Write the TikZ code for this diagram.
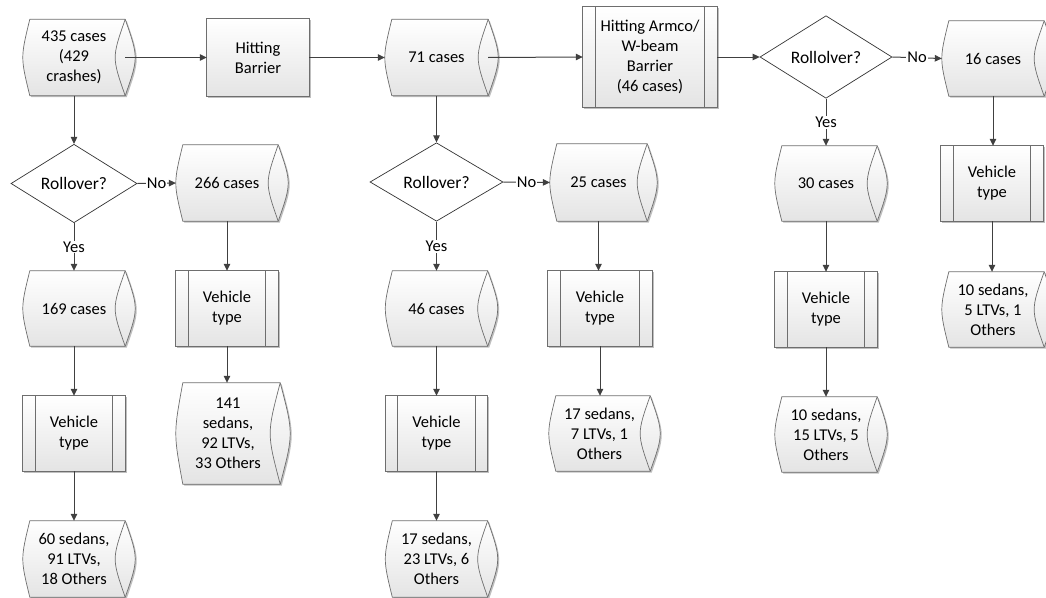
\documentclass[tikz,border=0pt]{standalone}
\usepackage{fontspec}
\setmainfont{Carlito}
\usetikzlibrary{arrows.meta,shapes.geometric,shadows,backgrounds}
\definecolor{lnc}{HTML}{404040}
\definecolor{brd}{HTML}{6E6E6E}
\definecolor{shd}{HTML}{E4E4E4}
\newcommand\storpath[1]{([xshift=7pt]#1.north west) .. controls ([xshift=-2.33pt]#1.west) .. ([xshift=7pt]#1.south west) -- (#1.south east) .. controls ([xshift=13.33pt]#1.east) .. (#1.north east) -- cycle}
\newcommand\drawstor[1]{%
  \path[shapefill] \storpath{#1};
  \draw[brd, line width=0.7pt] (#1.north east) .. controls ([xshift=-13.33pt]#1.east) .. (#1.south east);}
\newcommand\drawpred[1]{%
  \path[shapefill] (#1.north west) rectangle (#1.south east);
  \draw[brd, line width=0.7pt] ([xshift=12.5pt]#1.north west) -- ([xshift=12.5pt]#1.south west)
    ([xshift=-12.5pt]#1.north east) -- ([xshift=-12.5pt]#1.south east);}
\begin{document}
\begin{tikzpicture}[x=1pt,y=-1pt,
  every node/.style={font=\fontsize{16.5}{20}\selectfont, text=black},
  stor/.style={rectangle, inner sep=0pt, minimum width=102pt, minimum height=76pt, align=center},
  pred/.style={rectangle, inner sep=0pt, minimum width=102pt, minimum height=75pt, align=center},
  dec/.style={diamond, draw=black!80, fill=white, line width=0.7pt, inner sep=0pt, align=center, font=\fontsize{17.5}{20}\selectfont},
  shapefill/.style={draw=brd, line width=0.7pt, top color=white, bottom color=shd,
     drop shadow={shadow xshift=1.5pt, shadow yshift=-1.5pt, opacity=0.25, fill=black}},
  conn/.style={draw=lnc, line width=1pt, -{Triangle[length=7pt,width=6.5pt]}},
  lbl/.style={fill=white, inner sep=1pt, midway}
]
\useasboundingbox (0,0) rectangle (1046,597);
\clip (0,0) rectangle (1046,597);

% column A
\node[stor] (s435) at (74,57.5) {435 cases\\(429\\crashes)};
\node[dec, minimum width=126pt, minimum height=75pt] (d1) at (74,183.5) {Rollover?};
\node[stor, minimum height=75pt] (s169) at (74,308.5) {169 cases};
\node[pred] (v1) at (74,433.5) {Vehicle\\type};
\node[stor] (s60) at (74,559) {60 sedans,\\91 LTVs,\\18 Others};

% column B
\node[stor] (s266) at (227,183) {266 cases};
\node[pred] (v266) at (227,308.5) {Vehicle\\type};
\node[stor, minimum width=104pt, minimum height=101pt] (s141) at (228,433.5) {141\\sedans,\\92 LTVs,\\33 Others};

% top row
\node[rectangle, inner sep=0pt, minimum width=102pt, minimum height=77pt, align=center] (hb) at (258,57.5) {Hitting\\Barrier};
\node[stor, minimum width=103pt] (s71) at (436.5,57.5) {71 cases};
\node[rectangle, inner sep=0pt, minimum width=134pt, minimum height=100pt, align=center] (ha) at (650,57) {Hitting Armco/\\W-beam\\Barrier\\(46 cases)};
\node[dec, minimum width=132pt, minimum height=79pt] (d3) at (826,57) {Rollolver?};
\node[stor, minimum height=75pt] (s16) at (993,58.5) {16 cases};

% column C
\node[dec, minimum width=133pt, minimum height=77pt] (d2) at (436.5,182) {Rollover?};
\node[stor, minimum height=75pt] (s46) at (436.5,308.5) {46 cases};
\node[pred] (v46) at (436.5,433.5) {Vehicle\\type};
\node[stor] (s1723) at (436.5,559) {17 sedans,\\23 LTVs, 6\\Others};

% column D
\node[stor, minimum width=97pt, minimum height=77pt] (s25) at (598.5,182.5) {25 cases};
\node[pred, minimum width=104pt] (v25) at (600,308.5) {Vehicle\\type};
\node[stor, minimum width=101pt, minimum height=75pt] (s177) at (599.5,433.5) {17 sedans,\\7 LTVs, 1\\Others};

% column E
\node[stor, minimum height=75pt] (s30) at (826,183.5) {30 cases};
\node[pred] (v30) at (826,309.5) {Vehicle\\type};
\node[stor, minimum height=75pt] (s1015) at (826,434.5) {10 sedans,\\15 LTVs, 5\\Others};

% column F
\node[pred] (v16) at (992,183.5) {Vehicle\\type};
\node[stor, minimum height=75pt] (s105) at (993,309.5) {10 sedans,\\5 LTVs, 1\\Others};

\begin{scope}[on background layer]
  \foreach \n in {s435,s169,s60,s266,s141,s71,s16,s46,s1723,s25,s177,s30,s1015,s105} {\drawstor{\n}}
  \foreach \n in {v1,v266,v46,v25,v30,v16,ha} {\drawpred{\n}}
  \path[shapefill] (hb.north west) rectangle (hb.south east);
\end{scope}

% connectors
\draw[conn] (s435.east) -- (hb.west);
\draw[conn] (hb.east) -- (s71.west);
\draw[conn] (s71.east) -- (ha.west);
\draw[conn] (ha.east) -- (d3.west);
\draw[conn] (d3.east) -- node[lbl]{No} (s16.west);
\draw[conn] (d3.south) -- node[lbl]{Yes} (s30.north);
\draw[conn] (s30.south) -- (v30.north);
\draw[conn] (v30.south) -- (s1015.north);
\draw[conn] (s16.south) -- (s16.south |- v16.north);
\draw[conn] (v16.south) -- (v16.south |- s105.north);

\draw[conn] (s435.south) -- (d1.north);
\draw[conn] (d1.east) -- node[lbl]{No} (s266.west);
\draw[conn] (d1.south) -- node[lbl]{Yes} (s169.north);
\draw[conn] (s169.south) -- (v1.north);
\draw[conn] (v1.south) -- (s60.north);
\draw[conn] (s266.south) -- (v266.north);
\draw[conn] (v266.south) -- (v266.south |- s141.north);

\draw[conn] (s71.south) -- (d2.north);
\draw[conn] (d2.east) -- node[lbl]{No} (s25.west);
\draw[conn] (d2.south) -- node[lbl]{Yes} (s46.north);
\draw[conn] (s46.south) -- (v46.north);
\draw[conn] (v46.south) -- (s1723.north);
\draw[conn] (s25.south) -- (s25.south |- v25.north);
\draw[conn] (v25.south) -- (v25.south |- s177.north);
\end{tikzpicture}
\end{document}
